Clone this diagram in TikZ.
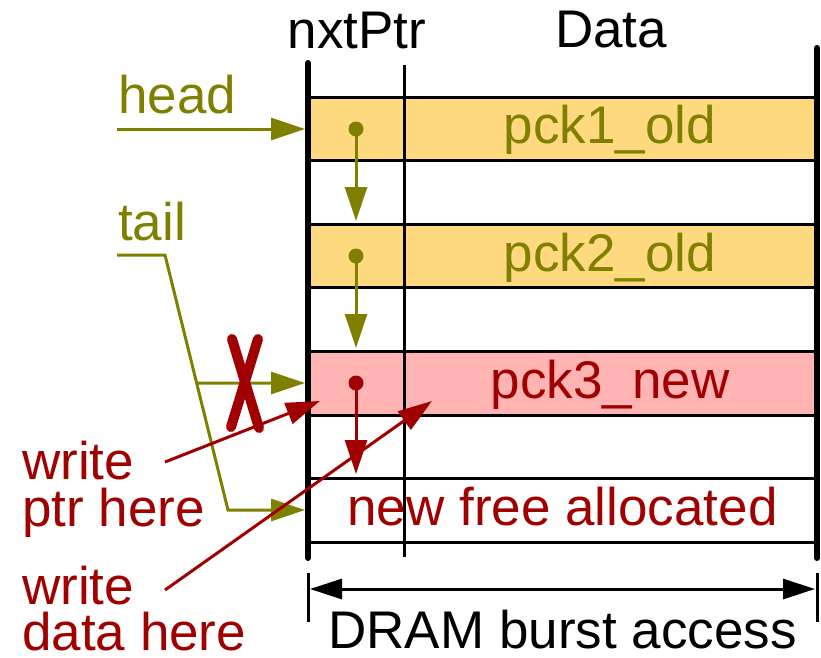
\documentclass[tikz,border=0pt]{standalone}
\usepackage{fontspec}
\setmainfont{Liberation Sans}
\usetikzlibrary{arrows.meta,calc}
\definecolor{myolive}{HTML}{808000}
\definecolor{myred}{HTML}{A00000}
\definecolor{myorange}{HTML}{FFD980}
\definecolor{mypink}{HTML}{FFB3B3}
\begin{document}
\begin{tikzpicture}[x=1pt,y=-1pt,
  font=\fontsize{53}{47}\selectfont,
  gridline/.style={line width=3pt, black},
  thickv/.style={line width=6pt, line cap=round},
  bigtip/.tip={Triangle[length=34pt,width=22pt]},
  oarrow/.style={myolive, line width=3pt, -bigtip},
  rarrow/.style={myred, line width=3pt, -bigtip},
  ptrdot/.style={circle, fill, inner sep=0pt, minimum size=15pt},
  lbl/.style={inner sep=0pt, anchor=base},
  lblw/.style={inner sep=0pt, anchor=base west}]
\useasboundingbox (0,0) rectangle (821,657);
% fills
\fill[myorange] (308,97) rectangle (817,160.6);
\fill[myorange] (308,224.2) rectangle (817,287.8);
\fill[mypink] (308,351.4) rectangle (817,415);
% grid
\foreach \yy in {97,160.6,224.2,287.8,351.4,415,478.6,542.2}
  \draw[gridline] (308,\yy) -- (817,\yy);
\draw[line width=3pt] (404,65) -- (404,557);
\draw[thickv] (308,63) -- (308,558);
\draw[thickv] (817,48) -- (817,558);
% headers
\node[lbl] (nxt) at (357,48) {nxtPtr};
\node[lbl] (data) at (611,47) {Data};
% row texts
\node[lbl, myolive] (p1) at (610,143) {pck1\_old};
\node[lbl, myolive] (p2) at (610,271) {pck2\_old};
\node[lbl, myred] (p3) at (610,398) {pck3\_new};
\node[lbl, myred] (nf) at (562.5,525) {new free allocated};
% left labels
\node[lblw, myolive] (head) at (118,113) {head};
\node[lblw, myolive] (tail) at (118,240) {tail};
\node[lblw, myred] (w1a) at (22,479) {write};
\node[lblw, myred] (w1b) at (22,526) {ptr here};
\node[lblw, myred] (w2a) at (22,604) {write};
\node[lblw, myred] (w2b) at (22,650) {data here};
% pointer chain
\node[ptrdot, myolive] (d1) at (356,129) {};
\node[ptrdot, myolive] (d2) at (356,256) {};
\node[ptrdot, myred] (d3) at (356,383) {};
\coordinate (e1) at (356,221);
\coordinate (e2) at (356,348);
\coordinate (e3) at (356,474);
\draw[oarrow] (d1.center) -- (e1);
\draw[oarrow] (d2.center) -- (e2);
\draw[rarrow] (d3.center) -- (e3);
% head pointer
\coordinate (hs) at (117,129);
\coordinate (he) at (305,129);
\draw[oarrow] (hs) -- (he);
% tail pointer
\coordinate (ts) at (117,255);
\coordinate (tk) at (165,255);
\coordinate (tb) at (228,510);
\coordinate (te) at (305,510);
\coordinate (tm) at ($(tk)!0.502!(tb)$);
\coordinate (tme) at (305,383);
\draw[oarrow] (ts) -- (tk) -- (tb) -- (te);
\draw[oarrow] (tm) -- (tme);
% cross
\draw[myred, line width=10pt, line cap=round] (232,339) -- (259,428);
\draw[myred, line width=10pt, line cap=round] (258,339) -- (231,427);
% write arrows
\coordinate (w1s) at (165,462);
\coordinate (w1e) at (320,401);
\coordinate (w2s) at (165,590);
\coordinate (w2e) at (432,401);
\draw[rarrow] (w1s) -- (w1e);
\draw[rarrow] (w2s) -- (w2e);
% dimension
\coordinate (dl) at (310,589);
\coordinate (dr) at (815,589);
\draw[line width=3pt, {Triangle[length=32pt,width=20pt]}-{Triangle[length=32pt,width=20pt]}] (dl) -- (dr);
\draw[line width=3pt] (308,573) -- (308,622);
\draw[line width=3pt] (817,573) -- (817,622);
\node[lbl] (dram) at (562.5,648) {DRAM burst access};
\end{tikzpicture}
\end{document}
